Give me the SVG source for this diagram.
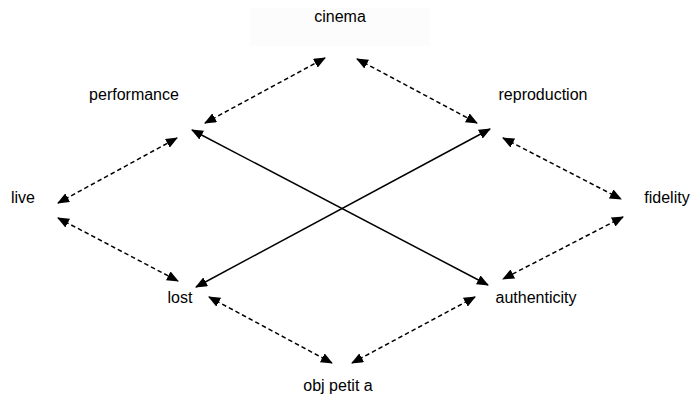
<svg xmlns="http://www.w3.org/2000/svg" width="691" height="395" viewBox="0 0 691 395">
<style>
text{font-family:"Liberation Sans",Arial,sans-serif;font-size:16px;fill:#000;text-anchor:middle}
.d{stroke:#000;stroke-width:1.5;fill:none;stroke-dasharray:4.5,3;marker-start:url(#ah);marker-end:url(#ah)}
.s{stroke:#000;stroke-width:1.5;fill:none;marker-start:url(#ah);marker-end:url(#ah)}
</style>
<defs>
<marker id="ah" markerUnits="userSpaceOnUse" viewBox="0 0 12 10" refX="11" refY="5" markerWidth="12" markerHeight="10" orient="auto-start-reverse">
<path d="M0,0 L12,5 L0,10 Z" fill="#000"/>
</marker>
</defs>
<rect width="691" height="395" fill="#fff"/>
<g id="connectors">
<line class="d" x1="205" y1="123" x2="325" y2="58"/>
<line class="d" x1="357" y1="59" x2="477" y2="123"/>
<line class="d" x1="58" y1="203" x2="177" y2="138"/>
<line class="d" x1="58" y1="218" x2="178" y2="281"/>
<line class="d" x1="503" y1="138" x2="621" y2="199"/>
<line class="d" x1="623" y1="217" x2="503" y2="279"/>
<line class="d" x1="209" y1="297" x2="332" y2="363"/>
<line class="d" x1="475" y1="297" x2="352" y2="363"/>
<line class="s" x1="192" y1="130" x2="488" y2="285"/>
<line class="s" x1="196" y1="287" x2="490" y2="129"/>
</g>
<g id="cinema"><rect x="250" y="8" width="180" height="38" fill="#fcfcfc"/><text x="340" y="22">cinema</text></g>
<g id="performance"><text x="134" y="100">performance</text></g>
<g id="reproduction"><text x="543" y="100">reproduction</text></g>
<g id="live"><text x="23" y="203">live</text></g>
<g id="fidelity"><text x="667" y="203">fidelity</text></g>
<g id="lost"><text x="180" y="303">lost</text></g>
<g id="authenticity"><text x="536" y="303">authenticity</text></g>
<g id="obj"><text x="338" y="391">obj petit a</text></g>
</svg>
